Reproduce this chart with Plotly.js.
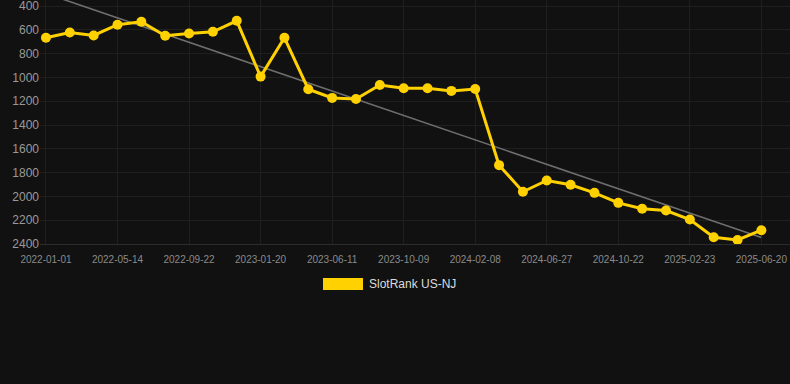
<!DOCTYPE html>
<html>
<head>
<meta charset="utf-8">
<script src="https://cdn.plot.ly/plotly-3.0.1.min.js"></script>
<style>
  html, body { margin: 0; padding: 0; background: #111111; }
  #chart { width: 790px; height: 384px; }
</style>
</head>
<body>
<div id="chart"></div>
<script>
// Tick labels shown on the x axis (every third observation)
const tickLabels = ["2022-01-01", "2022-05-14", "2022-09-22", "2023-01-20", "2023-06-11",
  "2023-10-09", "2024-02-08", "2024-06-27", "2024-10-22", "2025-02-23", "2025-06-20"];
const seriesName = "SlotRank US-NJ";
const rankValues = [667, 622, 647, 557, 532, 650, 630, 616, 524, 993,
  667, 1099, 1172, 1181, 1064, 1091, 1091, 1113, 1097, 1737,
  1961, 1866, 1902, 1970, 2054, 2104, 2119, 2194, 2343, 2366, 2284];
const yTicks = [400, 600, 800, 1000, 1200, 1400, 1600, 1800, 2000, 2200, 2400];

const idx = rankValues.map((_, i) => i);
const tickIdx = tickLabels.map((_, k) => k * 3);

// Least-squares trend line from the data
const n = rankValues.length;
const mx = idx.reduce((a, b) => a + b, 0) / n;
const my = rankValues.reduce((a, b) => a + b, 0) / n;
let sxy = 0, sxx = 0;
idx.forEach((x, i) => { sxy += (x - mx) * (rankValues[i] - my); sxx += (x - mx) * (x - mx); });
const slope = sxy / sxx, icpt = my - slope * mx;
const trendX = [idx[0], idx[n - 1]];
const trendY = trendX.map(x => icpt + slope * x);

const yellow = "#FFD100";

const traces = [
  {
    x: trendX, y: trendY, type: "scatter", mode: "lines",
    line: { color: "#6e6e6e", width: 1.6 },
    hoverinfo: "skip", showlegend: false
  },
  {
    x: idx, y: rankValues, type: "scatter", mode: "lines+markers",
    name: seriesName,
    line: { color: yellow, width: 3 },
    marker: { color: yellow, size: 10 },
    showlegend: false
  }
];

const layout = {
  width: 790, height: 384,
  paper_bgcolor: "#111111", plot_bgcolor: "#111111",
  margin: { l: 40, r: 0, t: 0, b: 140 },
  font: { family: "Liberation Sans, Arial, sans-serif", color: "#999" },
  xaxis: {
    type: "linear",
    range: [-0.25, 31.2],
    tickmode: "array", tickvals: tickIdx, ticktext: tickLabels,
    tickfont: { size: 10, color: "#8a8a8a" },
    gridcolor: "#1f1f1f", gridwidth: 1,
    showline: true, linecolor: "#2c2c2c", linewidth: 1,
    zeroline: false, ticks: "outside", ticklen: 6, tickcolor: "rgba(0,0,0,0)"
  },
  yaxis: {
    range: [2400, 349],
    tickmode: "array", tickvals: yTicks,
    tickfont: { size: 12, color: "#9a9a9a" },
    ticklabeloverflow: "allow",
    gridcolor: "#1f1f1f", gridwidth: 1,
    zeroline: false, ticks: "", showline: false
  },
  shapes: [
    { type: "rect", xref: "paper", yref: "paper",
      x0: (323 - 40) / 750, x1: (363 - 40) / 750,
      y0: -(278 - 244) / 244, y1: -(290 - 244) / 244,
      fillcolor: yellow, line: { width: 0 } }
  ],
  annotations: [
    { xref: "paper", yref: "paper", x: (367 - 40) / 750, y: -(284 - 244) / 244,
      xanchor: "left", yanchor: "middle", showarrow: false,
      text: seriesName, font: { size: 12, color: "#dddddd" } }
  ],
  showlegend: false
};

Plotly.newPlot("chart", traces, layout, { displayModeBar: false, staticPlot: true });
</script>
</body>
</html>
